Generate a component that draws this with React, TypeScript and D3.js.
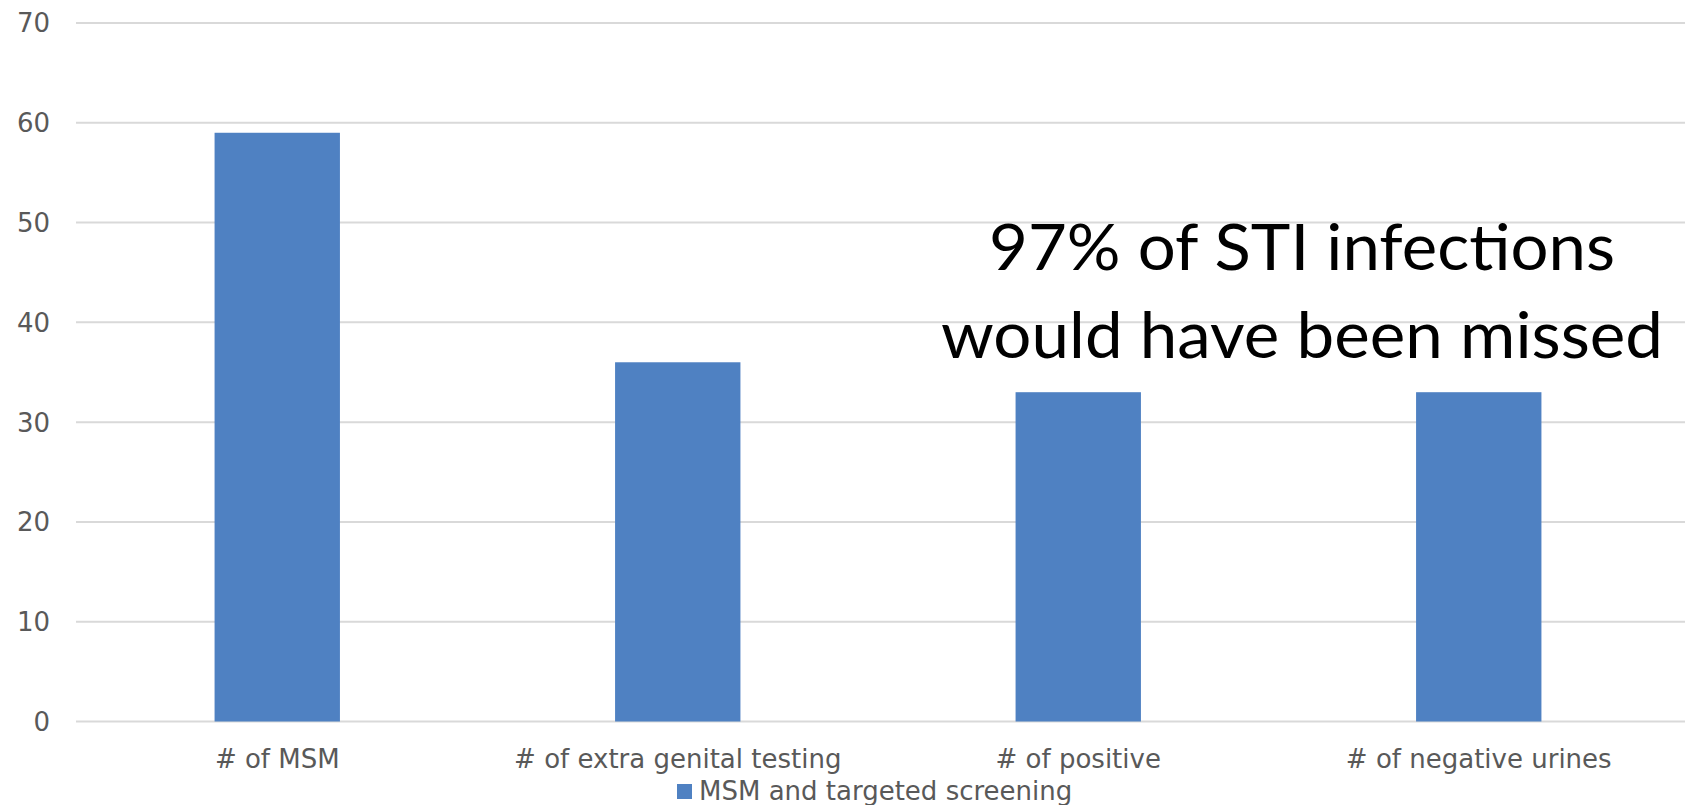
import React from 'react';
import * as d3 from 'd3';

const categories = ['# of MSM', '# of extra genital testing', '# of positive', '# of negative urines'];
const values = [59, 36, 33, 33];
const yTicks = [0, 10, 20, 30, 40, 50, 60, 70];
const seriesName = 'MSM and targeted screening';
const noteLines = ['97% of STI infections', 'would have been missed'];
const noteWidths = [626, 722];

const W = 1685;
const H = 805;
const margin = { top: 23, right: 6, bottom: 83, left: 77 };

export default function App() {
  const x = d3
    .scaleBand<string>()
    .domain(categories)
    .range([margin.left, W - margin.right])
    .paddingInner(0.687)
    .paddingOuter(0.3435);

  const y = d3
    .scaleLinear()
    .domain([0, 70])
    .range([H - margin.bottom - 0.5, margin.top]);

  const font = '"DejaVu Sans", sans-serif';

  return (
    <svg
      width={W}
      height={H}
      style={{ position: 'absolute', left: 0, top: 0, background: '#fff' }}
    >
      {/* gridlines */}
      {yTicks.map(t => (
        <line
          key={t}
          x1={76}
          x2={W}
          y1={y(t)}
          y2={y(t)}
          stroke="#d9d9d9"
          strokeWidth={2}
        />
      ))}
      {/* y labels */}
      {yTicks.map(t => (
        <text
          key={'l' + t}
          x={50}
          y={y(t)}
          dy="0.36em"
          textAnchor="end"
          fontFamily={font}
          fontSize={26}
          fill="#595959"
        >
          {t}
        </text>
      ))}
      {/* bars */}
      {categories.map((c, i) => (
        <rect
          key={c}
          x={x(c)}
          y={y(values[i])}
          width={x.bandwidth()}
          height={y(0) - y(values[i])}
          fill="#4f81c2"
        />
      ))}
      {/* category labels */}
      {categories.map(c => (
        <text
          key={'c' + c}
          x={(x(c) ?? 0) + x.bandwidth() / 2}
          y={768}
          textAnchor="middle"
          fontFamily={font}
          fontSize={26}
          fill="#595959"
        >
          {c}
        </text>
      ))}
      {/* legend */}
      <rect x={677} y={784} width={15} height={15} fill="#4f81c2" />
      <text x={699} y={800} fontFamily={font} fontSize={26} fill="#595959">
        {seriesName}
      </text>
      {/* annotation */}
      {noteLines.map((line, i) => (
        <text
          key={line}
          x={1302}
          y={270 + i * 88}
          textAnchor="middle"
          fontFamily='Lato, "Open Sans", sans-serif'
          fontSize={64}
          textLength={noteWidths[i]}
          lengthAdjust="spacingAndGlyphs"
          fill="#000"
        >
          {line}
        </text>
      ))}
    </svg>
  );
}
